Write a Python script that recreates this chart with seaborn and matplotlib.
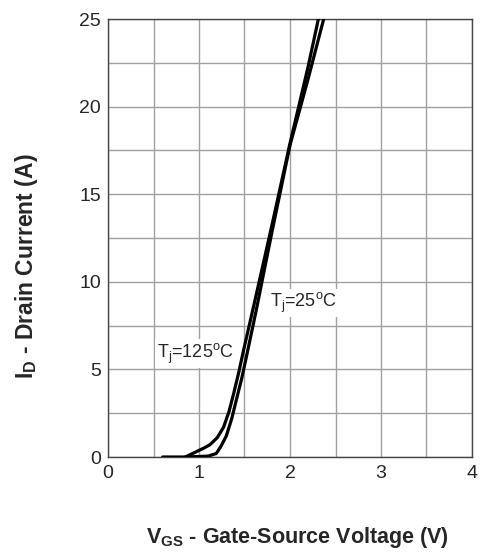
import matplotlib
matplotlib.use("Agg")
import matplotlib.pyplot as plt
import seaborn as sns
import pandas as pd

# Data
vgs_125 = [0.6, 0.85, 0.97, 1.05, 1.12, 1.2, 1.27, 1.33, 1.38, 1.44, 1.49, 1.6, 1.8, 2.0, 2.2, 2.32]
id_125 = [0, 0, 0.3, 0.5, 0.7, 1.1, 1.7, 2.6, 3.6, 4.9, 6.1, 8.6, 13.2, 17.9, 22.3, 25.2]
vgs_25 = [0.85, 1.1, 1.19, 1.24, 1.3, 1.36, 1.41, 1.47, 1.52, 1.63, 1.8, 2.0, 2.2, 2.38]
id_25 = [0, 0.05, 0.2, 0.6, 1.2, 2.2, 3.25, 4.5, 5.7, 8.4, 12.8, 17.8, 21.6, 25.2]
x_ticks = [0, 1, 2, 3, 4]
y_ticks = [0, 5, 10, 15, 20, 25]

df = pd.concat([
    pd.DataFrame({"Vgs": vgs_125, "Id": id_125, "Tj": "125"}),
    pd.DataFrame({"Vgs": vgs_25, "Id": id_25, "Tj": "25"}),
])

sns.set_style("white")
plt.rcParams["font.family"] = ["Liberation Sans", "DejaVu Sans"]

fig = plt.figure(figsize=(4.81, 5.57), dpi=100)
ax = fig.add_axes([108 / 481, 1 - 457 / 557, 364 / 481, 438 / 557])

sns.lineplot(data=df, x="Vgs", y="Id", hue="Tj", units="Tj", estimator=None,
             sort=False, palette={"125": "black", "25": "black"},
             linewidth=2.3, legend=False, ax=ax, zorder=3)

ax.set_xlim(0, 4)
ax.set_ylim(0, 25)
ax.set_xticks([x * 0.5 for x in range(9)], minor=True)
ax.set_yticks([y * 2.5 for y in range(11)], minor=True)
ax.set_xticks(x_ticks)
ax.set_yticks(y_ticks)
ax.set_xticklabels([str(v) for v in x_ticks], fontsize=14)
ax.set_yticklabels([str(v) for v in y_ticks], fontsize=14)
ax.tick_params(axis="x", which="both", length=0, pad=6)
ax.tick_params(axis="y", which="both", length=0, pad=5)
ax.grid(True, which="both", color="#a0a0a0", linewidth=1.0)
ax.set_axisbelow(True)
for s in ax.spines.values():
    s.set_color("#444444")
    s.set_linewidth(1.0)

ax.set_xlabel(r"V$_\mathregular{GS}$ - Gate-Source Voltage (V)", fontsize=15.5,
              fontweight="bold", va="center")
ax.set_ylabel(r"I$_\mathregular{D}$ - Drain Current (A)", fontsize=16.5,
              fontweight="bold", va="center")
ax.xaxis.set_label_coords((297 - 108) / 364, -(538 - 457) / 438)
ax.yaxis.set_label_coords(-(108 - 26) / 364, (457 - 266) / 438)

bbox = dict(facecolor="white", edgecolor="none", pad=1.5)
ax.text(1.78, 8.8, r"T$_\mathregular{j}$=25$^\mathregular{o}$C", fontsize=13,
        va="center", ha="left", bbox=bbox, zorder=4)
ax.text(0.54, 5.9, r"T$_\mathregular{j}$=125$^\mathregular{o}$C", fontsize=13,
        va="center", ha="left", bbox=bbox, zorder=4)

fig.savefig("out.png", dpi=100)
